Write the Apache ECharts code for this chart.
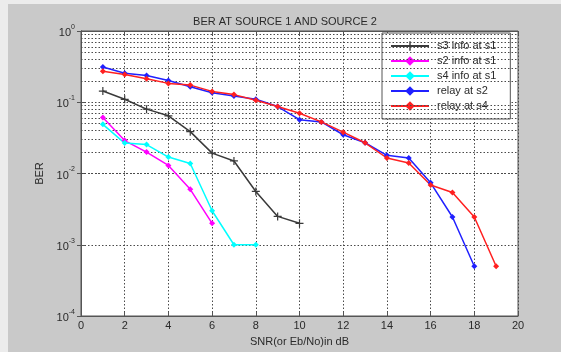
<!DOCTYPE html>
<html><head><meta charset="utf-8">
<script src="https://cdn.jsdelivr.net/npm/echarts@6/dist/echarts.min.js"></script>
<style>html,body{margin:0;padding:0;background:#ececec}#c{width:561px;height:352px}</style>
</head><body><div id="c"></div>
<script>
const snrS3 = [1,2,3,4,5,6,7,8,9,10];
const s3Info = [0.1435,0.110,0.080,0.0645,0.0387,0.0193,0.015,0.0056,0.0025,0.0020];
const snrS2 = [1,2,3,4,5,6];
const s2Info = [0.061,0.029,0.020,0.013,0.006,0.002];
const snrS4 = [1,2,3,4,5,6,7,8];
const s4Info = [0.049,0.0267,0.0255,0.017,0.0138,0.003,0.001,0.001];
const snrR2 = [1,2,3,4,5,6,7,8,9,10,11,12,13,14,15,16,17,18];
const relayS2 = [0.313,0.255,0.237,0.202,0.165,0.136,0.122,0.110,0.087,0.057,0.053,0.035,0.027,0.018,0.0165,0.0074,0.00245,0.0005];
const snrR4 = [1,2,3,4,5,6,7,8,9,10,11,12,13,14,15,16,17,18,19];
const relayS4 = [0.272,0.245,0.213,0.184,0.174,0.142,0.128,0.107,0.087,0.070,0.053,0.038,0.027,0.0165,0.014,0.0069,0.0054,0.00245,0.0005];
const xTicks = [0,2,4,6,8,10,12,14,16,18,20];
const yDecades = [1e-4,1e-3,1e-2,1e-1,1];
const seriesNames = ['s3 info at s1','s2 info at s1','s4 info at s1','relay at s2','relay at s4'];

const minorVals = [];
for (let d = 0; d < yDecades.length - 1; d++) for (let k = 2; k <= 9; k++) minorVals.push(+(yDecades[d]*k).toPrecision(3));

const zip = (xs, ys) => xs.map((x,i)=>[x, ys[i]]);
const FONT = '"Liberation Sans", Arial, sans-serif';
const gridDot = {color:'#4a4a4a', type:[1.5,2], width:1};
const plus = 'path://M-0.6,-4H0.6V-0.6H4V0.6H0.6V4H-0.6V0.6H-4V-0.6H-0.6Z';

function mk(name, xs, ys, color, sym, size) {
  return {name, type:'line', data: zip(xs, ys), symbol: sym, symbolSize: size,
    lineStyle:{color, width:1.5}, itemStyle:{color}, z:5};
}

const chart = echarts.init(document.getElementById('c'), null, {renderer:'canvas'});
chart.setOption({
  backgroundColor:'#ececec',
  animation:false,
  graphic:[{type:'rect', shape:{x:8,y:4,width:561,height:352}, style:{fill:'#c9c9c9'}, z:-10, silent:true}],
  title:{text:'BER AT SOURCE 1 AND SOURCE 2', left:280, top:11, textAlign:'center',
    textStyle:{fontFamily:FONT, fontSize:11, fontWeight:'normal', color:'#2a2a2a'}},
  grid:{left:81, right:43, top:31, bottom:33, show:true, backgroundColor:'#ffffff', borderColor:'#555', borderWidth:1},
  legend:{data:seriesNames, orient:'vertical', left:382, top:33,
    backgroundColor:'#ffffff', borderColor:'#555', borderWidth:1, padding:[7,14,7,8],
    itemWidth:38, itemHeight:12, itemGap:3,
    textStyle:{fontFamily:FONT, fontSize:11, color:'#2a2a2a', lineHeight:12, padding:[0,0,0,3]}},
  xAxis:[{type:'value', min:0, max:20, interval:2, name:'SNR(or Eb/No)in dB', nameLocation:'middle', nameGap:20,
    nameTextStyle:{fontFamily:FONT, fontSize:11, color:'#2a2a2a'},
    axisLine:{show:true, lineStyle:{color:'#555'}}, axisTick:{inside:true, length:4, lineStyle:{color:'#555'}},
    axisLabel:{fontFamily:FONT, fontSize:11, color:'#2a2a2a', margin:4, customValues: xTicks},
    splitLine:{show:true, lineStyle:gridDot}},
    {type:'value', position:'top', min:0, max:20, interval:2, axisLine:{show:true, lineStyle:{color:'#555'}},
     axisTick:{inside:true, length:4, lineStyle:{color:'#555'}}, axisLabel:{show:false}, splitLine:{show:false}}],
  yAxis:[{type:'log', logBase:10, min:1e-4, max:1, name:'BER', nameLocation:'middle', nameGap:36, nameRotate:90,
    nameTextStyle:{fontFamily:FONT, fontSize:11, color:'#2a2a2a'},
    axisLine:{show:true, lineStyle:{color:'#555'}}, axisTick:{inside:true, length:4, lineStyle:{color:'#555'}},
    axisLabel:{margin:6, formatter: v => '{b|10}{s|' + Math.round(Math.log10(v)) + '}',
      rich:{b:{fontFamily:FONT, fontSize:11, color:'#2a2a2a', padding:[4,0,0,0]}, s:{fontFamily:FONT, fontSize:7, color:'#2a2a2a', verticalAlign:'top', padding:[0,0,6,0]}}},
    splitLine:{show:true, lineStyle:gridDot}},
    {type:'log', logBase:10, min:1e-4, max:1, position:'right', axisLine:{show:true, lineStyle:{color:'#555'}},
     axisTick:{inside:true, length:4, lineStyle:{color:'#555'}}, axisLabel:{show:false}, splitLine:{show:false}}],
  series:[
    {name:'_minor', type:'line', data:[], silent:true, z:1,
     markLine:{silent:true, symbol:'none', label:{show:false}, animation:false,
       lineStyle:gridDot, data: minorVals.map(v=>({yAxis:v}))}},
    mk(seriesNames[0], snrS3, s3Info, '#3a3a3a', plus, 8),
    mk(seriesNames[1], snrS2, s2Info, '#ff00ff', 'diamond', 6),
    mk(seriesNames[2], snrS4, s4Info, '#00ffff', 'diamond', 6),
    mk(seriesNames[3], snrR2, relayS2, '#2020ff', 'diamond', 6),
    mk(seriesNames[4], snrR4, relayS4, '#ff2020', 'diamond', 6)
  ]
});
</script></body></html>
